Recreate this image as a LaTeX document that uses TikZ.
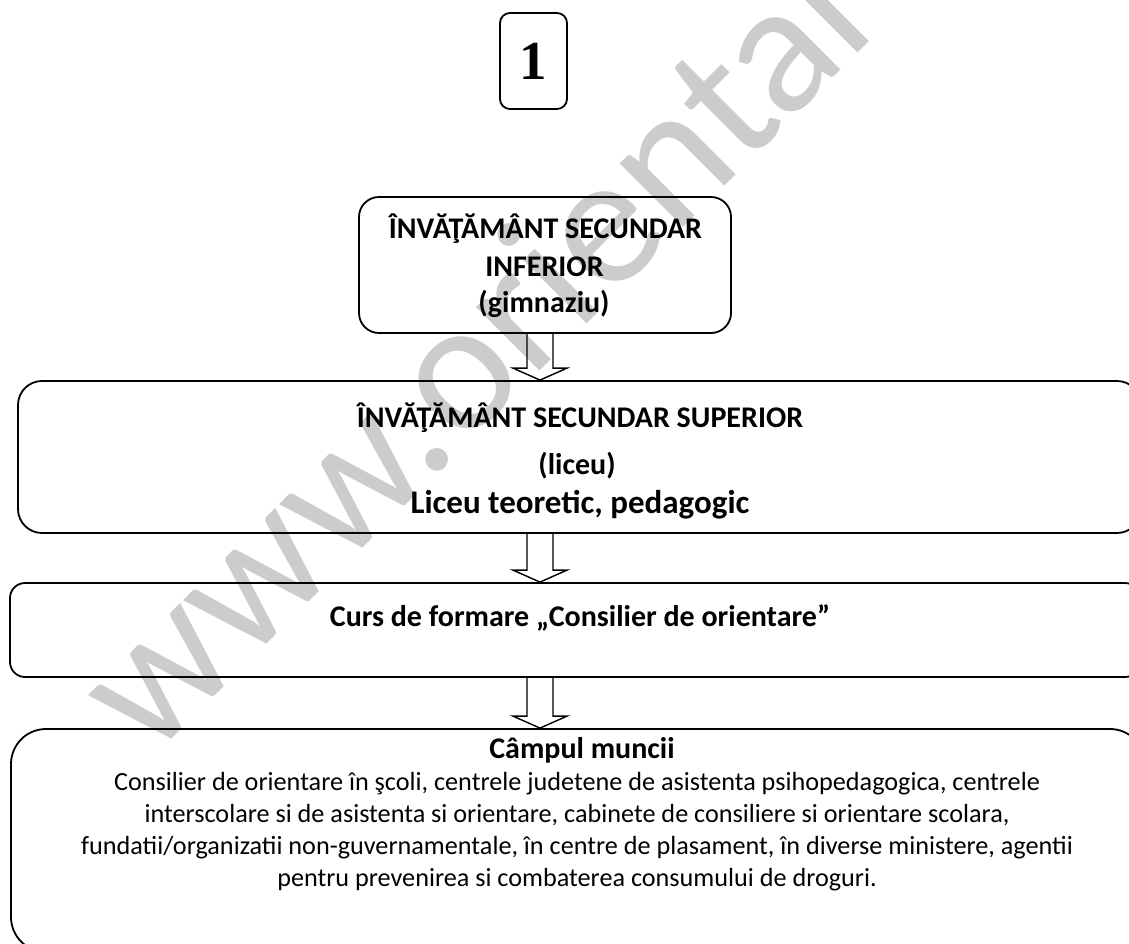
\documentclass[tikz,border=0pt]{standalone}
\usepackage{fontspec}
\setmainfont{Carlito}
\newfontfamily\numfont{Liberation Serif}
\usetikzlibrary{calc}
\tikzset{
  box/.style={draw=black, line width=1.8pt, rounded corners=#1, inner sep=0pt},
  blockarr/.style={draw=black, line width=1.4pt, line join=miter},
  hdr/.style={anchor=base, inner sep=0pt, font=\bfseries\fontsize{30}{37}\selectfont},
  big/.style={anchor=base, inner sep=0pt, font=\bfseries\fontsize{33}{40}\selectfont},
  body/.style={anchor=base, inner sep=0pt, font=\fontsize{26.2}{32}\selectfont},
  wmark/.style={anchor=base west, inner sep=0pt, text=black!20, rotate=45, font=\fontsize{188}{188}\selectfont}
}
\begin{document}
\begin{tikzpicture}[x=1pt, y=-1pt]
\useasboundingbox (0,0) rectangle (1129,944);
\clip (0,0) rectangle (1129,944);
% watermark
\node[wmark] (wm) at (150,761) {www.orientare.ro};
% number box
\node[box=10pt, minimum width=67pt, minimum height=96pt] (num) at (533.5,61)
  {\numfont\bfseries\fontsize{55}{55}\selectfont 1};
% boxes
\node[box=20pt, minimum width=372pt, minimum height=136pt] (A) at (545,265) {};
\node[box=24pt, minimum width=1123pt, minimum height=152pt] (B) at (579.5,457) {};
\node[box=15pt, minimum width=1130pt, minimum height=94pt] (C) at (575,630) {};
\node[box=35pt, minimum width=1134pt, minimum height=223pt] (D) at (578,840.5) {};
% texts
\node[hdr] (a1) at (545.5,238.5) {ÎNVĂŢĂMÂNT SECUNDAR};
\node[hdr] (a2) at (544.5,276.5) {INFERIOR};
\node[hdr] (a3) at (544,312.5) {(gimnaziu)};
\node[hdr] (b1) at (580,427.3) {ÎNVĂŢĂMÂNT SECUNDAR SUPERIOR};
\node[hdr] (b2) at (577,474) {(liceu)};
\node[big] (b3) at (580,513.3) {Liceu teoretic, pedagogic};
\node[hdr] (c1) at (580,626) {Curs de formare „Consilier de orientare”};
\node[hdr] (d0) at (582,758) {Câmpul muncii};
\node[body] (d1) at (577,790) {Consilier de orientare în şcoli, centrele judetene de asistenta psihopedagogica, centrele};
\node[body] (d2) at (577,822) {interscolare si de asistenta si orientare, cabinete de consiliere si orientare scolara,};
\node[body] (d3) at (577,854) {fundatii/organizatii non-guvernamentale, în centre de plasament, în diverse ministere, agentii};
\node[body] (d4) at (577,886) {pentru prevenirea si combaterea consumului de droguri.};
% block arrows
\coordinate (ax) at (540,0);
\foreach \f/\t in {A/B, B/C, C/D}{
  \draw[blockarr] ($(ax|-\f.south)+(-13,0)$) -- ($(ax|-\t.north)+(-13,-12)$) -- ++(-14,0)
    -- (ax|-\t.north) -- ++(27,-12) -- ++(-14,0) -- ($(ax|-\f.south)+(13,0)$);
}
\end{tikzpicture}
\end{document}
